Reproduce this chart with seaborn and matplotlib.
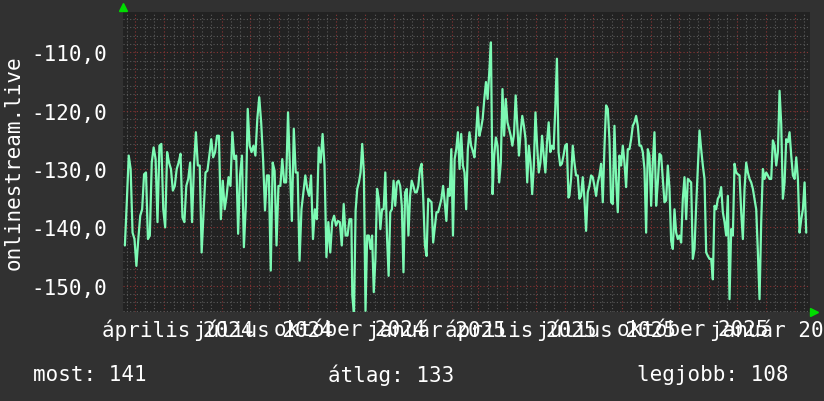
import numpy as np
import pandas as pd
import matplotlib
matplotlib.use("Agg")
import matplotlib.pyplot as plt
import matplotlib.dates as mdates
from matplotlib.ticker import MultipleLocator, FixedLocator, NullFormatter
import seaborn as sns

# ---------------- data ----------------
seg_a_span = ("2024-02-19", "2024-10-17")
seg_a = [-143.1, -135.7, -127.7, -130.0, -140.9, -142.0, -146.6, -142.0, -138.0, -136.9,
         -130.9, -130.6, -142.0, -141.4, -128.9, -126.3, -128.3, -139.1, -126.0, -125.7,
         -136.9, -140.0, -127.1, -128.9, -130.0, -133.7, -132.9, -130.0, -128.9, -127.4,
         -138.3, -139.1, -132.9, -131.7, -128.9, -139.1, -129.4, -123.7, -129.4, -129.4,
         -144.3, -137.4, -130.6, -130.3, -127.7, -124.9, -128.0, -127.1, -124.3, -124.3,
         -138.6, -132.0, -136.9, -134.6, -131.4, -132.9, -123.7, -128.3, -127.7, -141.1,
         -131.1, -127.7, -143.4, -136.3, -119.7, -126.0, -127.1, -126.0, -127.7, -121.4,
         -117.7, -122.0, -128.3, -137.1, -131.1, -131.1, -147.4, -128.9, -130.3, -143.1,
         -132.9, -132.9, -128.3, -132.3, -132.3, -120.3, -130.0, -138.9, -123.1, -130.6,
         -130.6, -145.7, -136.9, -134.0, -131.1, -133.4, -134.6, -131.1, -142.0, -136.9,
         -138.6, -126.3, -128.9, -124.0, -129.4, -145.1, -139.1, -144.3, -139.1, -138.0,
         -139.7, -138.9, -139.1, -143.1, -136.0, -141.4, -141.4, -138.6, -138.6]

seg_b_span = ("2024-10-18", "2025-06-05")
seg_b = [-151.7, -154.9, -137.1, -133.4, -132.3, -130.6, -125.7, -130.6, -154.3, -141.4,
         -141.4, -143.7, -141.4, -151.1, -145.4, -133.4, -135.1, -140.3, -136.9, -136.9,
         -130.6, -141.4, -148.3, -137.4, -136.9, -132.0, -136.3, -132.3, -132.0, -132.9,
         -136.3, -147.7, -134.0, -133.4, -141.4, -134.6, -132.0, -132.9, -134.0, -134.0,
         -132.9, -130.0, -129.1, -135.1, -143.1, -144.9, -135.1, -135.4, -135.7, -142.6,
         -140.0, -137.4, -137.4, -136.3, -135.1, -132.9, -135.7, -138.9, -133.4, -134.6,
         -126.6, -141.4, -128.3, -126.6, -123.7, -130.0, -124.0, -129.4, -130.6, -136.9,
         -126.6, -123.7, -126.0, -126.9, -128.0, -124.3, -119.4, -124.3, -123.1, -121.4,
         -118.0, -115.1, -118.0, -113.4, -108.3, -134.3, -127.7, -124.6, -126.0, -132.3,
         -128.9, -116.3, -124.3, -118.0, -122.0, -123.1, -124.3, -126.0, -124.0, -117.4,
         -122.6, -127.7, -123.7, -120.9, -122.6, -124.9, -132.3, -126.0, -128.9, -134.3,
         -129.4, -120.3, -126.0, -130.6, -128.9, -124.3, -127.7, -130.6, -125.4, -122.0,
         -127.1, -126.0, -126.6, -119.7, -111.1, -127.1, -129.4, -129.1, -127.7, -126.0,
         -125.7, -134.9]

seg_c_span = ("2025-06-06", "2026-02-13")
seg_c = [-134.6, -131.7, -126.0, -128.9, -131.1, -131.1, -135.1, -134.6, -131.4, -135.1,
         -140.6, -134.0, -132.9, -131.1, -131.4, -132.9, -134.6, -132.3, -131.1, -129.1,
         -135.7, -126.3, -119.1, -119.7, -124.9, -135.7, -136.0, -122.6, -131.7, -137.4,
         -127.7, -129.4, -126.0, -128.9, -133.1, -126.6, -126.6, -124.9, -122.6, -122.0,
         -120.9, -122.6, -126.0, -126.0, -127.1, -130.0, -140.9, -126.6, -127.7, -136.3,
         -128.9, -123.7, -136.3, -132.3, -127.4, -127.7, -131.7, -135.7, -135.4, -129.4,
         -133.4, -142.3, -143.7, -136.9, -140.9, -142.0, -141.4, -142.6, -135.1, -131.4,
         -138.6, -131.7, -132.0, -132.3, -145.4, -143.7, -136.3, -130.0, -123.4, -126.6,
         -129.4, -131.7, -144.3, -144.9, -145.4, -145.4, -148.9, -136.3, -136.9, -135.1,
         -134.6, -133.1, -137.4, -139.1, -141.4, -134.6, -152.3, -140.3, -141.4, -129.1,
         -130.6, -130.9, -131.1, -137.4, -142.0, -133.4, -128.9, -130.6, -131.7, -132.3,
         -133.4, -135.1, -136.9, -144.3, -152.3, -139.1, -130.0, -131.7, -130.6, -131.1,
         -131.7, -131.7, -125.1, -126.0, -129.4, -127.1, -116.6, -122.3, -135.1, -132.3,
         -124.9, -125.4, -123.7, -127.7, -131.1, -131.7, -128.0, -131.7, -140.9, -138.6,
         -136.9, -132.3, -140.9]

x_range = ("2024-02-17", "2026-02-17")
y_range = (-154.5, -103.1)

y_ticks = [-150, -140, -130, -120, -110]
y_tick_labels = ["-150,0", "-140,0", "-130,0", "-120,0", "-110,0"]

x_label_dates = ["2024-04-15", "2024-07-15", "2024-10-15", "2025-01-15",
                 "2025-04-15", "2025-07-15", "2025-10-15", "2026-01-15"]
x_labels = ["április 2024", "július 2024", "október 2024", "január 2025",
            "április 2025", "július 2025", "október 2025", "január 2026"]

y_title = "onlinestream.live"
footer = ["most: 141", "átlag: 133", "legjobb: 108"]

# ---------------- build table ----------------
frames = []
for span, vals in ((seg_a_span, seg_a), (seg_b_span, seg_b), (seg_c_span, seg_c)):
    frames.append(pd.DataFrame({
        "date": pd.date_range(span[0], span[1], periods=len(vals)),
        "value": vals,
    }))
df = pd.concat(frames, ignore_index=True)

# ---------------- style ----------------
FIG_BG = "#313131"
AX_BG = "#222222"
LINE = "#7dfab4"
TXT = "#ffffff"
MONO = ["DejaVu Sans Mono"]

sns.set_style("dark")
plt.rcParams["font.family"] = MONO

fig = plt.figure(figsize=(8.24, 4.02), dpi=100, facecolor=FIG_BG)
ax = fig.add_axes([123 / 824, 1 - 313 / 402, 687 / 824, 300 / 402])
ax.set_facecolor(AX_BG)

sns.lineplot(data=df, x="date", y="value", ax=ax, color=LINE, linewidth=1.6,
             estimator=None, sort=False, zorder=5)

ax.set_xlim(pd.Timestamp(x_range[0]), pd.Timestamp(x_range[1]))
ax.set_ylim(*y_range)

# grid
ax.xaxis.set_major_locator(mdates.MonthLocator())
ax.xaxis.set_minor_locator(mdates.DayLocator(bymonthday=[11, 21]))
ax.xaxis.set_major_formatter(NullFormatter())
ax.yaxis.set_major_locator(FixedLocator(y_ticks))
ax.yaxis.set_minor_locator(MultipleLocator(10 / 7))
ax.set_yticklabels(y_tick_labels)

ax.grid(which="minor", color="#5a5a5a", linestyle=(0, (1, 2)), linewidth=0.8)
ax.grid(which="major", color="#8a3535", linestyle=(0, (1, 2)), linewidth=0.8)
ax.set_axisbelow(True)

ax.tick_params(axis="both", which="both", length=0)
ax.tick_params(axis="y", which="major", pad=11.5, labelsize=15, labelcolor=TXT)
for s in ax.spines.values():
    s.set_visible(False)
ax.set_xlabel("")
ax.set_ylabel("")

# x labels (overlapping like the original)
for d, lab in zip(x_label_dates, x_labels):
    ax.text(pd.Timestamp(d), -0.057, lab, transform=ax.get_xaxis_transform(),
            ha="center", va="center", fontsize=15, color=TXT, clip_on=False)

# arrows
ax.plot([0], [1.018], marker="^", markersize=6, color="#00dd00",
        transform=ax.transAxes, clip_on=False, zorder=10)
ax.plot([1.006], [0.0], marker=">", markersize=6, color="#00dd00",
        transform=ax.transAxes, clip_on=False, zorder=10)

# y title
fig.text(14 / 824, 1 - 163 / 402, y_title, rotation=90, ha="center", va="center",
         fontsize=15, color=TXT)

# footer
for xpx, t in zip([33, 328, 637], footer):
    fig.text(xpx / 824, 1 - 375 / 402, t, ha="left", va="center", fontsize=15, color=TXT)

fig.savefig("out.png", dpi=100, facecolor=FIG_BG)
